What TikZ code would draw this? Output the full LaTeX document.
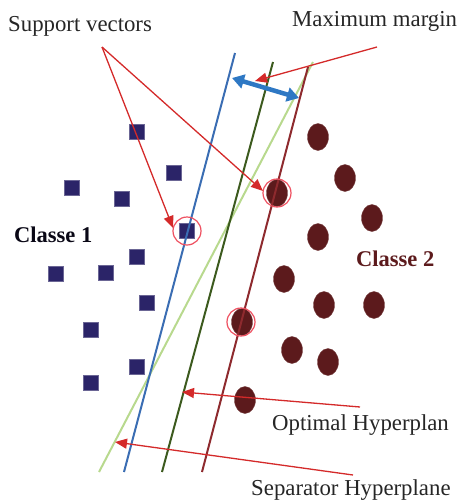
\documentclass[tikz,border=0pt]{standalone}
\usepackage{fontspec}
\setmainfont{Liberation Serif}
\usetikzlibrary{arrows.meta,shapes.geometric}
\definecolor{navy}{HTML}{2B2468}
\definecolor{maroonpt}{HTML}{5C1A1C}
\definecolor{blueline}{HTML}{3A6DB3}
\definecolor{dgreen}{HTML}{3C5A1E}
\definecolor{lgreen}{HTML}{B8D98E}
\definecolor{mline}{HTML}{8E2A2E}
\definecolor{redarr}{HTML}{D42A2A}
\definecolor{bluearr}{HTML}{2E78C4}
\definecolor{svring}{HTML}{EE5060}
\tikzset{
  sq/.style={fill=navy, draw=navy!70, minimum size=15pt, inner sep=0pt, rectangle},
  pt/.style={fill=maroonpt, draw=maroonpt!80, ellipse, minimum width=21pt, minimum height=27pt, inner sep=0pt},
  ring/.style={draw=svring, line width=1.2pt, circle, minimum size=28pt, inner sep=0pt},
  hyp/.style={line width=2pt},
  redarrow/.style={draw=redarr, line width=1.3pt, -{Triangle[length=12pt,width=10pt]}},
  lbl/.style={font=\fontsize{22.8}{26}\selectfont, text=black!85, inner sep=0pt},
  klbl/.style={font=\fontsize{22.5}{26}\selectfont\bfseries, inner sep=0pt},
}
\begin{document}
\begin{tikzpicture}[x=1pt,y=-1pt]
\useasboundingbox (0,0) rectangle (461,504);
% hyperplanes
\coordinate (bT) at (235,53); \coordinate (bB) at (124,472);
\coordinate (gT) at (273,62); \coordinate (gB) at (162,472);
\coordinate (lT) at (313,62); \coordinate (lB) at (99,472);
\coordinate (mT) at (308,67); \coordinate (mB) at (202,472);
\draw[hyp, lgreen] (lT) -- (lB);
\draw[hyp, dgreen] (gT) -- (gB);
% squares
\foreach \n/\x/\y in {s1/137/132, s2/174/173, s3/72/188, s4/122/199, s5/187/231, s6/137/257, s7/56/274, s8/106/273, s9/147/303, s10/91/330, s11/137/367, s12/91/383}
  \node[sq] (\n) at (\x,\y) {};
% ellipses
\foreach \n/\x/\y in {c1/318/137, c2/345/178, c3/372/218, c4/318/237, c5/277/193, c6/284/279, c7/324/305, c8/374/305, c9/242/322, c10/292/350, c11/328/362, c12/245/400}
  \node[pt] (\n) at (\x,\y) {};
\draw[hyp, mline] (mT) -- (mB);
\draw[hyp, blueline] (bT) -- (bB);
% support rings
\node[ring] (r1) at (187,231) {};
\node[ring] (r2) at (277,193) {};
\node[ring] (r3) at (241,322) {};
% labels
\node[lbl, anchor=base west] (sv) at (8,31) {Support vectors};
\node[lbl, anchor=base west] (mm) at (292,26) {Maximum margin};
\node[klbl, anchor=base west, text=black!80!navy] (k1) at (14,242) {Classe 1};
\node[klbl, anchor=base west, text=maroonpt] (k2) at (356,266) {Classe 2};
\node[lbl, anchor=base west] (oh) at (272,430) {Optimal Hyperplan};
\node[lbl, anchor=base west] (sh) at (251,495) {Separator Hyperplane};
% red arrows
\coordinate (apex) at (102,47);
\coordinate (mmS) at (377,47);
\coordinate (ohS) at (360,407);
\coordinate (shS) at (353,475);
\coordinate (t1) at (173,228);
\coordinate (t2) at (263,191);
\coordinate (t3) at (255,81);
\coordinate (t4) at (182,392);
\coordinate (t5) at (115,442);
\draw[redarrow] (apex) -- (t1);
\draw[redarrow] (apex) -- (t2);
\draw[redarrow] (mmS) -- (t3);
\draw[redarrow] (ohS) -- (t4);
\draw[redarrow] (shS) -- (t5);
% margin arrow
\coordinate (aL) at (232,78);
\coordinate (aR) at (299,98);
\draw[bluearr, line width=4.5pt, {Triangle[length=12pt,width=14pt]}-{Triangle[length=12pt,width=14pt]}] (aL) -- (aR);
\end{tikzpicture}
\end{document}
